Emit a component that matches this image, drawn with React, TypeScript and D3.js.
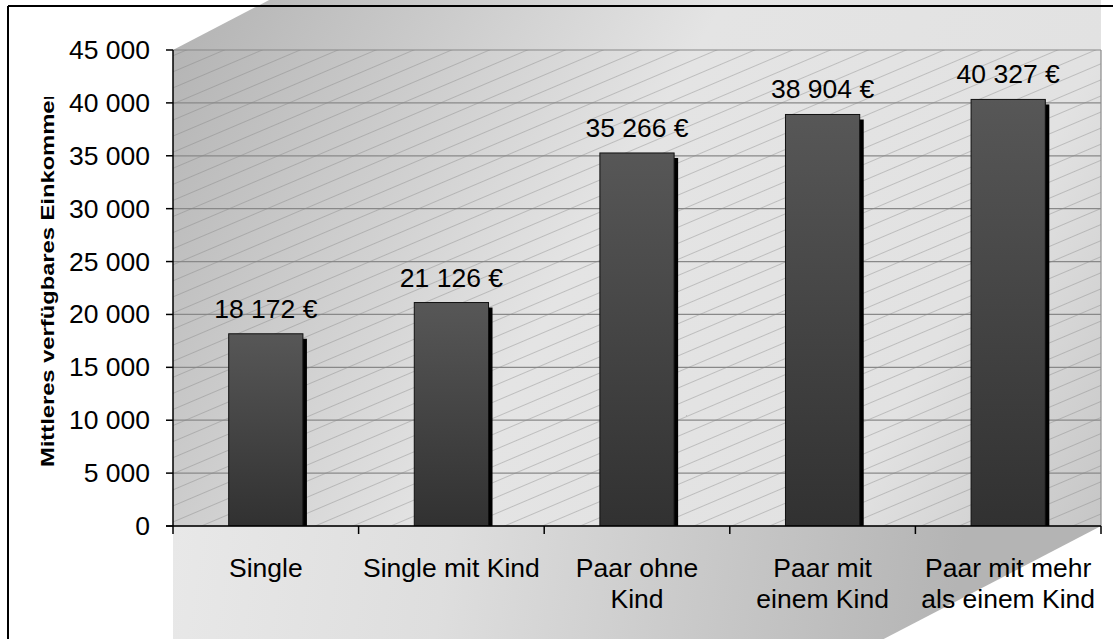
import React from 'react';
import * as d3 from 'd3';

const categories: string[][] = [
  ['Single'],
  ['Single mit Kind'],
  ['Paar ohne', 'Kind'],
  ['Paar mit', 'einem Kind'],
  ['Paar mit mehr', 'als einem Kind'],
];
const values = [18172, 21126, 35266, 38904, 40327];
const valueLabels = ['18 172 €', '21 126 €', '35 266 €', '38 904 €', '40 327 €'];
const yTicks = [0, 5000, 10000, 15000, 20000, 25000, 30000, 35000, 40000, 45000];
const yTickLabels = ['0', '5 000', '10 000', '15 000', '20 000', '25 000', '30 000', '35 000', '40 000', '45 000'];
const yTitle = 'Mittleres verfügbares Einkommen';

const W = 1113;
const H = 639;
const L = 173;
const R = 1101;
const T = 50;
const B = 526;
const FONT = '"Liberation Sans", Arial, Helvetica, sans-serif';
const FS = 26.5;

export default function App() {
  const x = d3
    .scaleBand<number>()
    .domain(values.map((_, i) => i))
    .range([L, R])
    .paddingInner(0.6)
    .paddingOuter(0.3);
  const step = x.step();
  const y = d3.scaleLinear().domain([0, 45000]).range([B, T]);

  const slope = 0.52;
  const topTipX = L + (T - 0) / slope;
  const floorEndX = R - (H + 20 - B) / slope;

  const boundaries = d3.range(0, categories.length + 1).map((i) => L + i * step);

  return (
    <svg
      width={W}
      height={H}
      style={{ position: 'absolute', left: 0, top: 0, display: 'block' }}
      fontFamily={FONT}
    >
      <defs>
        <linearGradient id="wallGrad" gradientUnits="userSpaceOnUse" x1={L} y1={0} x2={R} y2={B}>
          <stop offset="0" stopColor="#b2b2b2" />
          <stop offset="0.45" stopColor="#e4e4e4" />
          <stop offset="0.78" stopColor="#e2e2e2" />
          <stop offset="1" stopColor="#c6c6c6" />
        </linearGradient>
        <linearGradient id="floorGrad" gradientUnits="userSpaceOnUse" x1={L} y1={B} x2={950} y2={H}>
          <stop offset="0" stopColor="#e8e8e8" />
          <stop offset="0.35" stopColor="#dedede" />
          <stop offset="1" stopColor="#b4b4b4" />
        </linearGradient>
        <linearGradient id="barGrad" x1="0" y1="0" x2="0" y2="1">
          <stop offset="0" stopColor="#575757" />
          <stop offset="1" stopColor="#313131" />
        </linearGradient>
        <pattern
          id="hatch"
          patternUnits="userSpaceOnUse"
          width={200}
          height={14.8}
          patternTransform="rotate(-23)"
        >
          <line x1={0} y1={0.5} x2={200} y2={0.5} stroke="#7a7a7a" strokeOpacity={0.45} strokeWidth={0.8} />
        </pattern>
        <clipPath id="plotClip">
          <rect x={L} y={T} width={R - L} height={B - T} />
        </clipPath>
        <clipPath id="titleClip">
          <rect x={0} y={97} width={172} height={H} />
        </clipPath>
      </defs>

      <rect x={0} y={0} width={W} height={H} fill="#ffffff" />

      {/* wall */}
      <polygon
        points={`${L},${T} ${topTipX},0 ${R},0 ${R},${B} ${L},${B}`}
        fill="url(#wallGrad)"
      />
      {/* floor */}
      <polygon
        points={`${L},${B} ${R},${B} ${floorEndX},${H + 20} ${L},${H + 20}`}
        fill="url(#floorGrad)"
      />

      {/* hatching in plot area */}
      <rect x={L} y={T} width={R - L} height={B - T} fill="url(#hatch)" />

      {/* gridlines */}
      {yTicks.map((t) => (
        <line key={t} x1={L} x2={R} y1={y(t)} y2={y(t)} stroke="#888888" strokeWidth={1.2} />
      ))}
      <line x1={R} x2={R} y1={T} y2={B} stroke="#8a8a8a" strokeWidth={1.2} />

      {/* bars */}
      <g clipPath="url(#plotClip)">
        {values.map((v, i) => {
          const bx = x(i)!;
          const by = y(v);
          const bw = x.bandwidth();
          return (
            <g key={i}>
              <rect x={bx + 4} y={by + 5} width={bw} height={B - by} fill="#000000" />
              <rect
                x={bx}
                y={by}
                width={bw}
                height={B - by}
                fill="url(#barGrad)"
                stroke="#111111"
                strokeWidth={1}
              />
            </g>
          );
        })}
      </g>

      {/* value labels */}
      {values.map((v, i) => (
        <text
          key={i}
          x={x(i)! + x.bandwidth() / 2}
          y={y(v) - 16}
          textAnchor="middle"
          fontSize={FS}
          fill="#000"
        >
          {valueLabels[i]}
        </text>
      ))}

      {/* axes */}
      <line x1={L} x2={L} y1={T} y2={B} stroke="#000" strokeWidth={1.5} />
      <line x1={L - 7} x2={R} y1={B} y2={B} stroke="#000" strokeWidth={1.5} />
      {yTicks.map((t, i) => (
        <g key={t}>
          <line x1={L - 7} x2={L} y1={y(t)} y2={y(t)} stroke="#000" strokeWidth={1.5} />
          <text x={150} y={y(t) + 9} textAnchor="end" fontSize={FS} fill="#000">
            {yTickLabels[i]}
          </text>
        </g>
      ))}
      {boundaries.map((bx, i) => (
        <line key={i} x1={bx} x2={bx} y1={B} y2={B + 8} stroke="#000" strokeWidth={1.5} />
      ))}

      {/* category labels */}
      {categories.map((lines, i) => (
        <text key={i} textAnchor="middle" fontSize={FS} fill="#000">
          {lines.map((ln, j) => (
            <tspan key={j} x={x(i)! + x.bandwidth() / 2} y={577 + j * 31}>
              {ln}
            </tspan>
          ))}
        </text>
      ))}

      {/* y title */}
      <g clipPath="url(#titleClip)">
        <text
          transform="translate(53.5,467) rotate(-90)"
          fontSize={19}
          fontWeight="bold"
          textLength={381}
          lengthAdjust="spacingAndGlyphs"
          fill="#000"
        >
          {yTitle}
        </text>
      </g>

      {/* chart border */}
      <line x1={8} x2={W} y1={6} y2={6} stroke="#000" strokeWidth={2} />
      <line x1={8} x2={8} y1={6} y2={H} stroke="#000" strokeWidth={2} />
    </svg>
  );
}
